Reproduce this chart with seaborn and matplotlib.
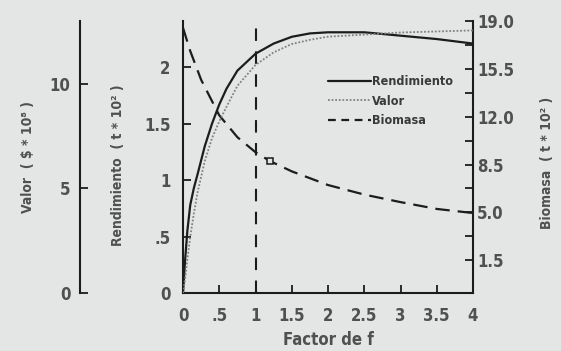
import numpy as np
import pandas as pd
import seaborn as sns
import matplotlib.pyplot as plt
from matplotlib.lines import Line2D
from matplotlib.ticker import FixedLocator

# --- data -----------------------------------------------------------------
factor = [0, 0.03, 0.06, 0.1, 0.15, 0.2, 0.3, 0.4, 0.5, 0.6, 0.75, 1.0, 1.25,
          1.5, 1.75, 2.0, 2.5, 3.0, 3.5, 4.0]
rendimiento = [0, 0.3, 0.55, 0.78, 0.93, 1.05, 1.3, 1.5, 1.67, 1.81, 1.97,
               2.12, 2.21, 2.27, 2.30, 2.31, 2.31, 2.28, 2.25, 2.21]   # t*10^2
valor = [0, 0.7, 1.6, 2.7, 3.8, 4.8, 6.3, 7.4, 8.2, 8.9, 9.9, 10.9, 11.5,
         11.9, 12.1, 12.25, 12.35, 12.45, 12.5, 12.55]                # $*10^8

biomasa_factor = [0, 0.1, 0.25, 0.5, 0.75, 1.0, 1.2, 1.5, 2.0, 2.5, 3.0,
                  3.5, 4.0]
biomasa = [18.5, 16.8, 14.7, 12.1, 10.5, 9.4, 8.75, 8.0, 7.0, 6.3, 5.75,
           5.25, 4.95]                                                 # t*10^2
biomasa_marca = [1.2]   # marked point on the biomass curve

f_referencia = 1.0

x_ticks = [0, 0.5, 1, 1.5, 2, 2.5, 3, 3.5, 4]
x_ticklabels = ["0", ".5", "1", "1.5", "2", "2.5", "3", "3.5", "4"]
rend_ticks = [0, 0.5, 1, 1.5, 2]
rend_ticklabels = ["0", ".5", "1", "1.5", "2"]
valor_ticks = [0, 5, 10]
biom_ticks = [1.5, 5.0, 8.5, 12.0, 15.5, 19.0]

# --- style ----------------------------------------------------------------
sns.set_theme(style="ticks")
plt.rcParams["font.family"] = ["DejaVu Sans"]
plt.rcParams["font.weight"] = "bold"
plt.rcParams["font.stretch"] = "condensed"

bg = "#e4e5e5"
ink = "#1c1c1c"
txt = "#505050"

fig = plt.figure(figsize=(5.61, 3.51), dpi=100, facecolor=bg)
W, H = 561, 351
ax = fig.add_axes([183 / W, 1 - 293 / H, (473 - 183) / W, (293 - 21) / H])
ax.set_facecolor(bg)
ax_b = ax.twinx()
ax_v = ax.twinx()
for a in (ax_b, ax_v):
    a.patch.set_visible(False)

df_r = pd.DataFrame({"f": factor, "y": rendimiento})
df_v = pd.DataFrame({"f": factor, "y": valor})
df_b = pd.DataFrame({"f": biomasa_factor, "y": biomasa})

sns.lineplot(data=df_r, x="f", y="y", ax=ax, color=ink, lw=1.6)
sns.lineplot(data=df_v, x="f", y="y", ax=ax_v, color="#808080", lw=1.3,
             linestyle=(0, (1, 1)))
sns.lineplot(data=df_b, x="f", y="y", ax=ax_b, color=ink, lw=1.6,
             linestyle=(0, (6.5, 3.6)))
marca_idx = [biomasa_factor.index(m) for m in biomasa_marca]
ax_b.plot([biomasa_factor[i] for i in marca_idx], [biomasa[i] for i in marca_idx],
          ls="none", marker="s", ms=5, mfc=bg, mec=ink, mew=1.1)
ax.axvline(f_referencia, color=ink, lw=1.5, linestyle=(0, (6, 5)))

# --- axes -----------------------------------------------------------------
ax.set_xlim(0, 4)
ax.set_ylim(0, 2.41)
ax_v.set_ylim(0, 13.0)
ax_b.set_ylim(-0.9, 19.0)

tick_kw = dict(direction="in", length=6, width=1.3, color=ink, labelcolor=txt,
               labelsize=12)
ax.set_xticks(x_ticks, x_ticklabels)
ax.set_yticks(rend_ticks, rend_ticklabels)
ax.tick_params(axis="x", pad=10, **tick_kw)
ax.tick_params(axis="y", pad=9, **tick_kw)
ax.spines["top"].set_visible(False)
ax.spines["right"].set_visible(False)
for s in ("left", "bottom"):
    ax.spines[s].set_linewidth(1.5)
    ax.spines[s].set_color(ink)

ax_b.set_yticks(biom_ticks, [f"{t:.1f}" for t in biom_ticks])
ax_b.yaxis.set_minor_locator(FixedLocator([t + 1.75 for t in biom_ticks[:-1]]))
ax_b.tick_params(axis="y", which="major", pad=3, **tick_kw)
ax_b.tick_params(axis="y", which="minor", direction="in", length=6, width=1.3,
                 color=ink)
for s in ("top", "left", "bottom"):
    ax_b.spines[s].set_visible(False)
ax_b.spines["right"].set_linewidth(1.5)
ax_b.spines["right"].set_color(ink)

ax_v.yaxis.tick_left()
ax_v.yaxis.set_label_position("left")
ax_v.spines["left"].set_position(("outward", 74))
for s in ("top", "right", "bottom"):
    ax_v.spines[s].set_visible(False)
ax_v.spines["left"].set_visible(True)
ax_v.spines["left"].set_linewidth(1.5)
ax_v.spines["left"].set_color(ink)
ax_v.set_yticks(valor_ticks, [str(t) for t in valor_ticks])
ax_v.tick_params(axis="y", pad=7, **tick_kw)

lab_kw = dict(color=txt, fontsize=10, fontweight="bold")
ax.set_xlabel("Factor de f", color=txt, fontsize=12, fontweight="bold")
ax.xaxis.set_label_coords(0.5, -0.14)
ax.set_ylabel("Rendimiento  ( t * 10² )", **lab_kw)
ax.yaxis.set_label_coords(-0.2, 0.47)
ax_v.set_ylabel("Valor  ( $ * 10⁸ )", **lab_kw)
ax_v.yaxis.set_label_coords(-0.51, 0.5)
ax_b.set_ylabel("Biomasa  ( t * 10² )", **lab_kw)
ax_b.yaxis.set_label_coords(1.232, 0.48)

handles = [
    Line2D([], [], color=ink, lw=1.6),
    Line2D([], [], color="#808080", lw=1.3, linestyle=(0, (1, 1))),
    Line2D([], [], color=ink, lw=1.6, linestyle=(0, (3.5, 2.5))),
]
leg = ax.legend(handles, ["Rendimiento", "Valor", "Biomasa"],
                loc="upper left", bbox_to_anchor=(0.5, 0.80), frameon=False,
                borderpad=0, borderaxespad=0, handlelength=3.4,
                handletextpad=0.15, labelspacing=0.5,
                prop=dict(size=9, weight="bold"))
for t in leg.get_texts():
    t.set_color("#3a3a3a")

fig.savefig("out.png", dpi=100, facecolor=bg)
